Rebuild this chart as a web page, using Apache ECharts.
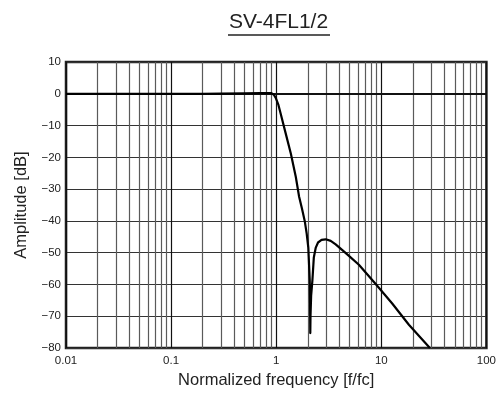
<!DOCTYPE html>
<html>
<head>
<meta charset="utf-8">
<script src="https://cdn.jsdelivr.net/npm/echarts@6/dist/echarts.min.js"></script>
<style>
  html, body { margin: 0; padding: 0; background: #fff; }
  #chart { width: 499px; height: 394px; }
</style>
</head>
<body>
<div id="chart"></div>
<script>
// frequency response (f/fc, dB)
const freq = [0.01, 0.03, 0.1, 0.2, 0.3, 0.5, 0.7, 0.85, 0.9, 0.95, 0.99, 1.05, 1.108, 1.236, 1.379, 1.537, 1.652, 1.76, 1.87, 1.95, 2.02, 2.085, 2.1, 2.11, 2.12, 2.15, 2.21, 2.28, 2.38, 2.5, 2.7, 2.96, 3.3, 3.68, 4.26, 4.92, 6.12, 8.8, 12.7, 18.3, 29.0]
const ampl = [0, 0, 0, 0, 0.05, 0.15, 0.2, 0.25, 0.2, -0.3, -1.3, -3.5, -6.5, -12.7, -18.9, -26.2, -32.4, -36.2, -40.1, -44.0, -48.4, -58.7, -66.0, -75.3, -70.0, -63.5, -58.7, -51.5, -48.4, -46.8, -46.0, -45.8, -46.3, -47.4, -49.2, -51.0, -53.8, -59.8, -66.0, -72.7, -80.0]

const xTicks = [0.01, 0.1, 1, 10, 100]
const yTicks = [-80, -70, -60, -50, -40, -30, -20, -10, 0, 10]
const titleText = 'SV-4FL1/2'

const chart = echarts.init(document.getElementById('chart'))

// minor log grid lines 2..9 in every decade
const minor = []
for (let d = 0; d < xTicks.length - 1; d++) {
  for (let k = 2; k <= 9; k++) minor.push({ xAxis: xTicks[d] * k })
}

const font = '"Liberation Sans", Arial, Helvetica, sans-serif'

chart.setOption({
  animation: false,
  grid: { left: 66, right: 10, top: 62, bottom: 42, show: true, borderColor: '#222', borderWidth: 2.5 },
  graphic: [
    { type: 'text', x: 278.5, y: 22, style: { text: titleText, fontFamily: font, fontSize: 21, fill: '#222', align: 'center', verticalAlign: 'middle' } },
    { type: 'line', shape: { x1: 228, y1: 35, x2: 330, y2: 35 }, style: { stroke: '#222', lineWidth: 1.5 } }
  ],
  xAxis: {
    type: 'log',
    logBase: 10,
    min: xTicks[0],
    max: xTicks[xTicks.length - 1],
    name: 'Normalized frequency [f/fc]',
    nameLocation: 'middle',
    nameGap: 24,
    nameTextStyle: { fontFamily: font, fontSize: 16.5, color: '#222' },
    axisLine: { show: false },
    axisTick: { show: false },
    axisLabel: {
      fontFamily: font, fontSize: 11.5, color: '#222', margin: 7,
      formatter: v => String(Number(v.toPrecision(3)))
    },
    splitLine: { show: true, lineStyle: { color: '#111', width: 1.2 } }
  },
  yAxis: {
    type: 'value',
    min: yTicks[0],
    max: yTicks[yTicks.length - 1],
    interval: 10,
    name: 'Amplitude [dB]',
    nameLocation: 'middle',
    nameGap: 36,
    nameTextStyle: { fontFamily: font, fontSize: 16.5, color: '#222' },
    axisLine: { show: false },
    axisTick: { show: false },
    axisLabel: {
      fontFamily: font, fontSize: 11.5, color: '#222', margin: 5,
      formatter: v => String(v).replace('-', '\u2212')
    },
    splitLine: { show: true, lineStyle: { color: '#333', width: 1 } }
  },
  series: [
    {
      type: 'line',
      data: [],
      silent: true,
      markLine: {
        silent: true,
        symbol: ['none', 'none'],
        label: { show: false },
        lineStyle: { color: '#5a5a5a', width: 1.2, type: 'solid' },
        data: minor
      }
    },
    {
      type: 'line',
      data: [],
      silent: true,
      markLine: {
        silent: true,
        symbol: ['none', 'none'],
        label: { show: false },
        lineStyle: { color: '#111', width: 2, type: 'solid' },
        data: [{ yAxis: 0 }]
      }
    },
    {
      type: 'line',
      data: freq.map((f, i) => [f, ampl[i]]),
      showSymbol: false,
      symbol: 'none',
      smooth: false,
      z: 5,
      lineStyle: { color: '#000', width: 2.2, join: 'round' }
    }
  ]
})
</script>
</body>
</html>
